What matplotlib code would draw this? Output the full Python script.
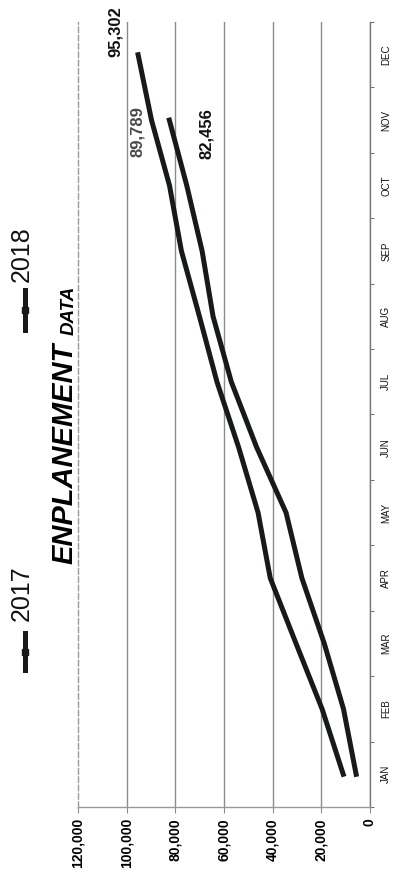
import matplotlib
matplotlib.use("Agg")
import matplotlib.pyplot as plt
from matplotlib.lines import Line2D

plt.rcParams['font.family'] = ['Liberation Sans', 'DejaVu Sans']

months = ['JAN', 'FEB', 'MAR', 'APR', 'MAY', 'JUN',
          'JUL', 'AUG', 'SEP', 'OCT', 'NOV', 'DEC']
enpl_2017 = [11000, 19700, 30400, 41000, 46000, 54000,
             62900, 70100, 77500, 82400, 89789, 95302]
enpl_2018 = [5700, 10900, 18800, 28000, 34500, 46600,
             57000, 64500, 69000, 75300, 82456]
value_ticks = [0, 20000, 40000, 60000, 80000, 100000, 120000]

W, H = 400, 880
fig = plt.figure(figsize=(W / 100, H / 100), dpi=100)
fig.patch.set_facecolor('white')

# chart is laid on its side: values run right-to-left, months bottom-to-top
ax = fig.add_axes([78 / W, 1 - 807 / H, (370 - 78) / W, (807 - 22) / H])
ax.set_xlim(120000, 0)
ax.set_ylim(-0.5, 11.5)

grid_col = '#8c8c8c'
ax.set_xticks(value_ticks)
ax.set_xticklabels([f'{v:,}' for v in value_ticks], rotation=90,
                   fontsize=10, fontweight='bold')
ax.tick_params(axis='x', length=4, color=grid_col, pad=4)
ax.grid(axis='x', color=grid_col, linewidth=1.0)
ax.get_xgridlines()[-1].set_visible(False)

ax.yaxis.tick_right()
ax.set_yticks(range(12))
ax.set_yticklabels(months, rotation=90, fontsize=7, va='center')
ax.set_yticks([i - 0.5 for i in range(13)], minor=True)
ax.tick_params(axis='y', which='major', length=0, pad=8, colors='#111111')
ax.tick_params(axis='y', which='minor', length=3, color='#555555')

ax.spines['top'].set_visible(False)
ax.spines['left'].set_color('#9a9a9a')
ax.spines['left'].set_linestyle((0, (4, 2)))
ax.spines['right'].set_color('#777777')
ax.spines['bottom'].set_color('#999999')
for s in ['left', 'right', 'bottom']:
    ax.spines[s].set_linewidth(1.0)

line_col = '#161a18'
ax.plot(enpl_2017, range(len(enpl_2017)), color=line_col, lw=3.6,
        solid_joinstyle='round')
ax.plot(enpl_2018, range(len(enpl_2018)), color=line_col, lw=3.6,
        solid_joinstyle='round')

# value labels at the ends of the series
ax.annotate(f'{enpl_2017[11]:,}', (enpl_2017[11], 11), xytext=(-16.5, 16.5),
            textcoords='offset points', rotation=90, ha='center', va='center',
            fontsize=12, fontweight='bold', color='#111111')
ax.annotate(f'{enpl_2017[10]:,}', (enpl_2017[10], 10), xytext=(-10, -8),
            textcoords='offset points', rotation=90, ha='center', va='center',
            fontsize=12, fontweight='bold', color='#4a4a4a')
ax.annotate(f'{enpl_2018[10]:,}', (enpl_2018[10], 10), xytext=(27, -10),
            textcoords='offset points', rotation=90, ha='center', va='center',
            fontsize=12, fontweight='bold', color='#111111')

# title
fig.text(78 / W, 1 - 453 / H, 'ENPLANEMENT', rotation=90, ha='right',
         va='center', fontsize=21, fontweight='bold', fontstyle='italic')
fig.text(78 / W, 1 - 310 / H, 'DATA', rotation=90, ha='right',
         va='center', fontsize=13.5, fontweight='bold', fontstyle='italic')

# legend
for label, y_top, y_bot, y_txt in [('2017', 633, 670, 593), ('2018', 290, 330, 254)]:
    fig.add_artist(Line2D([25 / W, 25 / W], [1 - y_top / H, 1 - y_bot / H],
                          transform=fig.transFigure, color=line_col, lw=3.6))
    fig.add_artist(Line2D([25 / W], [1 - (y_top + y_bot) / 2 / H],
                          transform=fig.transFigure, color=line_col,
                          marker='s', markersize=4, lw=0))
    fig.text(22 / W, 1 - y_txt / H, label, rotation=90, ha='center',
             va='center', fontsize=18, color='#111111')

fig.savefig('out.png', dpi=100)
